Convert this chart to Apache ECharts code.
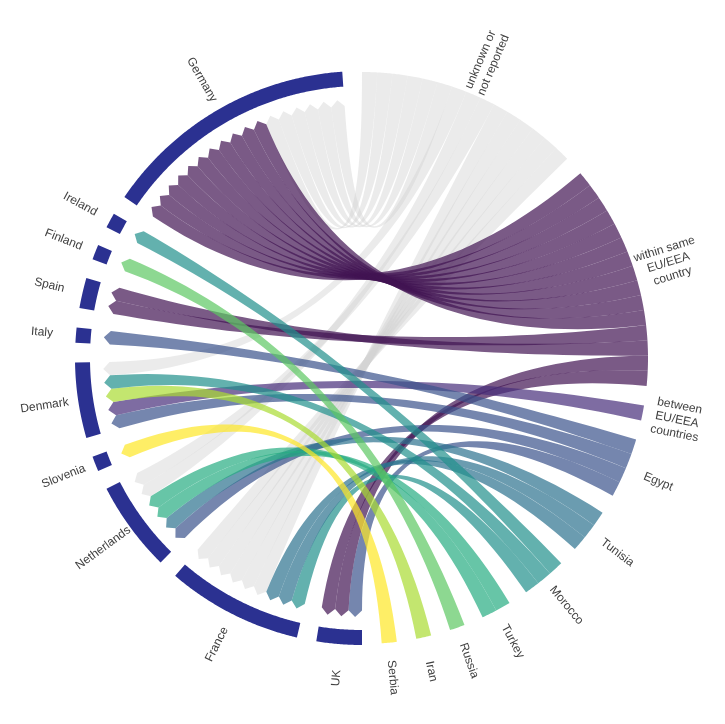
<!DOCTYPE html>
<html>
<head>
<meta charset="utf-8">
<script src="https://cdn.jsdelivr.net/npm/echarts@6.0.0/dist/echarts.min.js"></script>
<style>
  html, body { margin: 0; padding: 0; background: #fff; }
  #chart { width: 725px; height: 724px; }
</style>
</head>
<body>
<div id="chart"></div>
<script>
// sectors on the right (no arc), clockwise from 12 o'clock
const targets = ['unknown', 'within', 'between', 'Egypt', 'Tunisia', 'Morocco', 'Turkey', 'Russia', 'Iran', 'Serbia'];
const targetLabels = ['unknown or\nnot reported', 'within same\nEU/EEA\ncountry', 'between\nEU/EEA\ncountries',
  'Egypt', 'Tunisia', 'Morocco', 'Turkey', 'Russia', 'Iran', 'Serbia'];
const targetColors = [
  'rgba(210,210,210,0.45)', 'rgba(66,20,82,0.7)', 'rgba(71,45,123,0.7)', 'rgba(59,82,139,0.7)',
  'rgba(44,114,142,0.7)', 'rgba(33,144,140,0.7)', 'rgba(39,173,129,0.7)', 'rgba(93,200,99,0.7)',
  'rgba(170,220,50,0.7)', 'rgba(253,231,37,0.7)'
];
// reporting countries on the left (navy arcs), continuing clockwise
const sources = ['UK', 'France', 'Netherlands', 'Slovenia', 'Denmark', 'Italy', 'Spain', 'Finland', 'Ireland', 'Germany'];

// [source, target, number of links] in the order they sit on the source arc
const links = [
  ['UK', 'Egypt', 1], ['UK', 'within', 2],
  ['France', 'Morocco', 1], ['France', 'Tunisia', 2], ['France', 'unknown', 6],
  ['Netherlands', 'Egypt', 1], ['Netherlands', 'Tunisia', 1], ['Netherlands', 'Turkey', 2], ['Netherlands', 'unknown', 2],
  ['Slovenia', 'Serbia', 1],
  ['Denmark', 'Egypt', 1], ['Denmark', 'between', 1], ['Denmark', 'Iran', 1], ['Denmark', 'Morocco', 1], ['Denmark', 'unknown', 1],
  ['Italy', 'Egypt', 1],
  ['Spain', 'within', 2],
  ['Finland', 'Russia', 1],
  ['Ireland', 'Morocco', 1],
  ['Germany', 'within', 11], ['Germany', 'unknown', 6]
];

const GAP = 1.29; // gap between sectors, in link units
const R_OUT = 287, R_IN = 272, R_TIP = 259, R_BASE = 252.5, R_END = 286, R_LABEL = 321;

// sector layout
const sectors = targets.map((t, i) => ({ name: t, label: targetLabels[i], isSource: false, size: 0 }))
  .concat(sources.map(s => ({ name: s, label: s, isSource: true, size: 0 })));
const byName = {};
sectors.forEach(s => { byName[s.name] = s; });
links.forEach(([s, t, n]) => { byName[s].size += n; byName[t].size += n; });
let pos = 0;
sectors.forEach(s => { s.start = pos; s.end = pos + s.size; pos = s.end + GAP; });
const TOTAL = pos;

// one ribbon per link unit
const units = [];
links.forEach(([s, t, n]) => { for (let k = 0; k < n; k++) units.push({ s, t }); });
const cursor = {};
units.forEach(u => {
  if (!(u.s in cursor)) cursor[u.s] = byName[u.s].start;
  u.a0 = cursor[u.s]; u.a1 = u.a0 + 1; cursor[u.s] += 1;
});
targets.forEach(t => {
  const T = byName[t];
  const mid = (T.start + T.end) / 2;
  const ccw = u => {
    const S = byName[u.s];
    return ((mid - (S.start + S.end) / 2) % TOTAL + TOTAL) % TOTAL;
  };
  const list = units.filter(u => u.t === t).map((u, i) => ({ u, i }));
  list.sort((x, y) => ccw(x.u) - ccw(y.u) || x.i - y.i);
  let p = T.start;
  list.forEach(({ u }) => { u.b0 = p; u.b1 = p + 1; p += 1; });
});

// grey ones underneath
const drawn = units.filter(u => u.t === 'unknown').concat(units.filter(u => u.t !== 'unknown'));
const ribbonData = drawn.map(u => [u.a0, u.a1, u.b0, u.b1, targets.indexOf(u.t)]);
const arcData = sectors.filter(s => s.isSource).map(s => [s.start, s.end]);
const labelData = sectors.map(s => [(s.start + s.end) / 2, s.label]);

function arcPoints(api, pts, r, from, to) {
  const steps = Math.max(2, Math.ceil(Math.abs(to - from) / 0.1));
  for (let i = 0; i <= steps; i++) pts.push(api.coord([r, from + (to - from) * i / steps]));
}
function bezier(pts, p0, c, p2) {
  for (let i = 1; i <= 40; i++) {
    const t = i / 40, m = 1 - t;
    pts.push([m * m * p0[0] + 2 * m * t * c[0] + t * t * p2[0], m * m * p0[1] + 2 * m * t * c[1] + t * t * p2[1]]);
  }
}

function renderRibbon(params, api) {
  const a0 = api.value(0), a1 = api.value(1), b0 = api.value(2), b1 = api.value(3);
  const c = api.coord([0, 0]);
  const pts = [api.coord([R_BASE, a0]), api.coord([R_TIP, (a0 + a1) / 2]), api.coord([R_BASE, a1])];
  bezier(pts, api.coord([R_BASE, a1]), c, api.coord([R_END, b0]));
  arcPoints(api, pts, R_END, b0, b1);
  bezier(pts, api.coord([R_END, b1]), c, api.coord([R_BASE, a0]));
  return { type: 'polygon', shape: { points: pts }, style: { fill: targetColors[api.value(4)] } };
}

function renderArc(params, api) {
  const pts = [];
  arcPoints(api, pts, R_OUT, api.value(0), api.value(1));
  arcPoints(api, pts, R_IN, api.value(1), api.value(0));
  return { type: 'polygon', shape: { points: pts }, style: { fill: '#2b3191' } };
}

function renderLabel(params, api) {
  const mid = api.value(0);
  const th = mid / TOTAL * 2 * Math.PI;
  const p = api.coord([R_LABEL, mid]);
  let dx = Math.sin(th), dy = -Math.cos(th);
  if (dx < 0) { dx = -dx; dy = -dy; } // left half reads inwards
  return {
    type: 'text', x: p[0], y: p[1], rotation: -Math.atan2(dy, dx),
    style: {
      text: labelData[params.dataIndex][1], fill: '#404040',
      font: '12px "Liberation Sans", Arial, sans-serif', lineHeight: 14,
      align: 'center', verticalAlign: 'middle'
    }
  };
}

const chart = echarts.init(document.getElementById('chart'));
chart.setOption({
  animation: false,
  polar: { center: [362, 358], radius: [0, 300] },
  angleAxis: { type: 'value', min: 0, max: TOTAL, startAngle: 90, clockwise: true, show: false },
  radiusAxis: { type: 'value', min: 0, max: 300, show: false },
  series: [
    { type: 'custom', coordinateSystem: 'polar', silent: true, renderItem: renderRibbon, data: ribbonData },
    { type: 'custom', coordinateSystem: 'polar', silent: true, renderItem: renderArc, data: arcData },
    { type: 'custom', coordinateSystem: 'polar', silent: true, renderItem: renderLabel, data: labelData.map(d => [d[0], 0]) }
  ]
});
</script>
</body>
</html>
